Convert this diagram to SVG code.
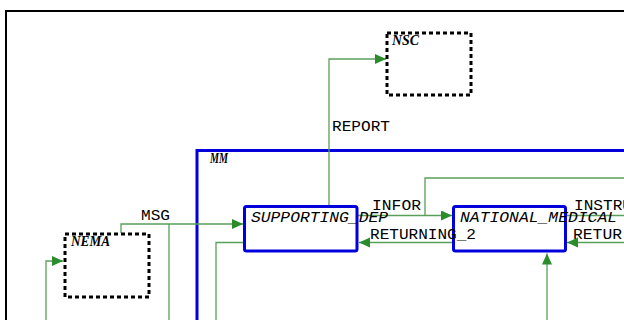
<svg xmlns="http://www.w3.org/2000/svg" width="624" height="320" viewBox="0 0 624 320">
<style>
.frame{fill:none;stroke:#000;stroke-width:2}
.ext{fill:#fff;stroke:#000;stroke-width:3;stroke-dasharray:4 3}
.proc{fill:#fff;stroke:#0000dd;stroke-width:3}
.cont{fill:none;stroke:#0000dd;stroke-width:3}
.edge{fill:none;stroke:#5a9e5a;stroke-width:1.3}
.nl{font-family:"Liberation Serif",serif;font-style:italic;font-weight:bold;font-size:14px;fill:#000}
.pl{font-family:"Liberation Mono",monospace;font-style:italic;font-size:14px;fill:#000}
.el{font-family:"Liberation Mono",monospace;font-size:14px;fill:#000}
</style>
<defs>
<marker id="ah" markerUnits="userSpaceOnUse" markerWidth="12" markerHeight="11" refX="11" refY="5" orient="auto">
<path d="M0,0 L11,5 L0,10 z" fill="#2a8c2a"/>
</marker>
</defs>
<rect width="624" height="320" fill="#fff"/>
<rect class="frame" x="6" y="11" width="640" height="330"/>
<g id="MM">
<rect class="cont" x="197" y="150.5" width="450" height="200"/>
<text class="nl" x="210" y="163" textLength="18" lengthAdjust="spacingAndGlyphs">MM</text>
</g>
<g id="connectors">
<path class="edge" d="M329,206 V59 H386" marker-end="url(#ah)"/>
<path class="edge" d="M358,215.5 H452" marker-end="url(#ah)"/>
<path class="edge" d="M425,215.5 V178 H630"/>
<path class="edge" d="M452,242.5 H359" marker-end="url(#ah)"/>
<path class="edge" d="M566,215.5 H630"/>
<path class="edge" d="M630,242.5 H567" marker-end="url(#ah)"/>
<path class="edge" d="M547,325 V253.5" marker-end="url(#ah)"/>
<path class="edge" d="M121,233 V224 H243" marker-end="url(#ah)"/>
<path class="edge" d="M169,224 V325"/>
<path class="edge" d="M244,242.5 H216 V325"/>
<path class="edge" d="M46,325 V261 H63" marker-end="url(#ah)"/>
</g>
<g id="NSC">
<rect class="ext" x="387" y="33" width="84" height="62"/>
<text class="nl" x="392" y="45" textLength="27" lengthAdjust="spacingAndGlyphs">NSC</text>
</g>
<g id="NEMA">
<rect class="ext" x="65" y="234" width="84" height="63"/>
<text class="nl" x="71" y="246" textLength="39" lengthAdjust="spacingAndGlyphs">NEMA</text>
</g>
<g id="SUPPORTING_DEP">
<rect class="proc" x="244.5" y="206.5" width="112.5" height="44.5" rx="2"/>
<text class="pl" x="251" y="221.5" textLength="137" lengthAdjust="spacingAndGlyphs">SUPPORTING_DEP</text>
</g>
<g id="NATIONAL_MEDICAL">
<rect class="proc" x="453.5" y="206.5" width="112" height="44.5" rx="2"/>
<text class="pl" x="460" y="221.5" textLength="157" lengthAdjust="spacingAndGlyphs">NATIONAL_MEDICAL</text>
</g>
<g id="connector-labels">
<text class="el" x="332" y="131" textLength="58" lengthAdjust="spacingAndGlyphs">REPORT</text>
<text class="el" x="141" y="220" textLength="29" lengthAdjust="spacingAndGlyphs">MSG</text>
<text class="el" x="372" y="210" textLength="49" lengthAdjust="spacingAndGlyphs">INFOR</text>
<text class="el" x="370" y="239" textLength="106" lengthAdjust="spacingAndGlyphs">RETURNING_2</text>
<text class="el" x="574" y="210" textLength="58" lengthAdjust="spacingAndGlyphs">INSTRU</text>
<text class="el" x="573" y="239" textLength="49" lengthAdjust="spacingAndGlyphs">RETUR</text>
</g>
</svg>
